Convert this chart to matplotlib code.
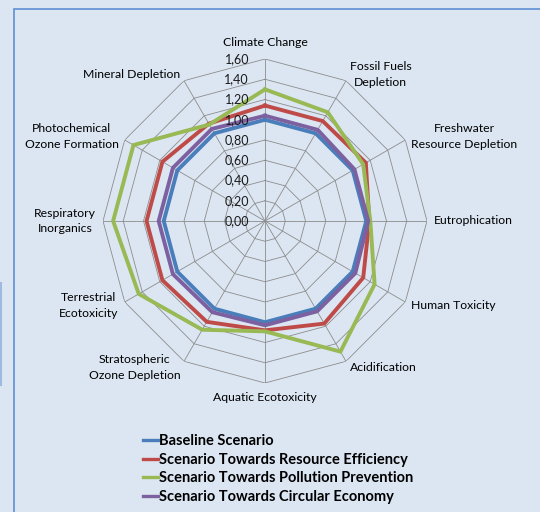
import matplotlib.pyplot as plt
import numpy as np
from matplotlib.lines import Line2D
from matplotlib.patches import Rectangle


categories = [
    "Climate Change", "Fossil Fuels\nDepletion", "Freshwater\nResource Depletion",
    "Eutrophication", "Human Toxicity", "Acidification", "Aquatic Ecotoxicity",
    "Stratospheric\nOzone Depletion", "Terrestrial\nEcotoxicity", "Respiratory\nInorganics",
    "Photochemical\nOzone Formation", "Mineral Depletion",
]
baseline = [1.00, 1.00, 1.00, 1.00, 1.00, 1.00, 1.00, 1.00, 1.00, 1.00, 1.00, 1.00]
resource_eff = [1.14, 1.14, 1.15, 1.03, 1.12, 1.17, 1.08, 1.15, 1.17, 1.17, 1.17, 1.11]
pollution_prev = [1.30, 1.24, 1.12, 1.04, 1.25, 1.49, 1.09, 1.24, 1.44, 1.50, 1.50, 1.10]
circular_econ = [1.04, 1.04, 1.02, 1.02, 1.03, 1.03, 1.03, 1.04, 1.05, 1.05, 1.05, 1.05]
levels = [0.0, 0.2, 0.4, 0.6, 0.8, 1.0, 1.2, 1.4, 1.6]

SERIES = [
    ("Baseline Scenario", baseline, "#4a7ebb"),
    ("Scenario Towards Resource Efficiency", resource_eff, "#be4b48"),
    ("Scenario Towards Pollution Prevention", pollution_prev, "#98b954"),
    ("Scenario Towards Circular Economy", circular_econ, "#7d60a0"),
]

BG = "#dce6f2"
GRID = "#8c8c8c"
plt.rcParams["font.family"] = ["Lato", "DejaVu Sans"]

fig = plt.figure(figsize=(5.4, 5.12), dpi=100, facecolor=BG)
ax = fig.add_axes([103 / 540, 1 - 383 / 512, 324 / 540, 324 / 512], projection="polar")
ax.set_facecolor("none")
ax.set_theta_zero_location("N")
ax.set_theta_direction(-1)
ax.set_ylim(0, 1.6)
ax.grid(False)
ax.spines["polar"].set_visible(False)
ax.set_xticks([])
ax.set_yticks([])

n = len(categories)
angles = np.linspace(0, 2 * np.pi, n, endpoint=False)
closed = np.append(angles, angles[0])

# polygon grid + spokes
for lv in levels[1:]:
    ax.plot(closed, [lv] * (n + 1), color=GRID, lw=0.6, zorder=1)
for a in angles:
    ax.plot([a, a], [0, levels[-1]], color=GRID, lw=0.6, zorder=1)

for lv in levels:
    ax.annotate(f"{lv:.2f}".replace(".", ","), xy=(0, lv), xytext=(-16, 0),
                textcoords="offset pixels", ha="right", va="center",
                fontsize=9, color="#1a1a1a", zorder=5)

for a, lab in zip(angles, categories):
    deg = np.degrees(a)
    if np.isclose(deg, 0):
        ax.text(a, 1.71, lab, ha="center", va="bottom", fontsize=8.8)
    elif np.isclose(deg, 180):
        ax.text(a, 1.69, lab, ha="center", va="top", fontsize=8.8)
    else:
        ha = "left" if deg < 180 else "right"
        ax.text(a, 1.67, lab, ha=ha, va="center", multialignment="center",
                fontsize=8.8, linespacing=1.5)

handles = []
for name, vals, color in SERIES:
    ax.plot(closed, vals + vals[:1], color=color, lw=2.8, zorder=3, solid_joinstyle="miter")
    handles.append(Line2D([], [], color=color, lw=2.4, label=name))

fig.legend(handles=handles, loc="upper left", bbox_to_anchor=(143 / 540, 1 - 434 / 512),
           frameon=False, handlelength=1.05, handletextpad=0.05, borderpad=0,
           borderaxespad=0, labelspacing=0.32, prop={"weight": "bold", "size": 10.5})

# chart frame
fig.patches.append(Rectangle((14 / 540, -0.05), 1.1, 1 - 9 / 512 + 0.05, transform=fig.transFigure,
                             fill=False, edgecolor="#5f8fd3", lw=1.2))
fig.add_artist(Line2D([0.5 / 540, 0.5 / 540], [1 - 385 / 512, 1 - 283 / 512],
                      transform=fig.transFigure, color="#9dbbe0", lw=1.5))

plt.savefig("out.png", dpi=100, facecolor=BG)
